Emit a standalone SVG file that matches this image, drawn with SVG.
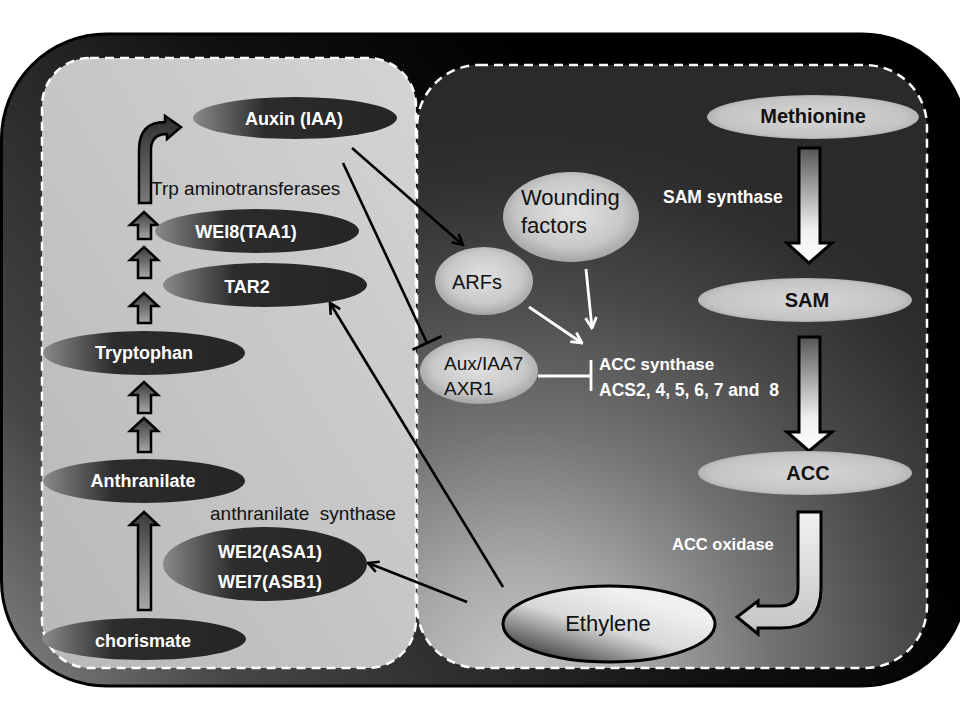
<svg xmlns="http://www.w3.org/2000/svg" width="960" height="720" viewBox="0 0 960 720">
<defs>
<style>
.dash{fill:none;stroke:#fff;stroke-width:2.5;stroke-dasharray:9 6}
.dk{fill:url(#gDark)}
.lt{fill:url(#gLight)}
.bl{fill:url(#gBlob)}
.wb{font-family:"Liberation Sans",Arial,sans-serif;font-weight:bold;fill:#fff}
.kb{font-family:"Liberation Sans",Arial,sans-serif;font-weight:bold;fill:#111}
.kr{font-family:"Liberation Sans",Arial,sans-serif;fill:#111}
.ln{fill:none;stroke:#000;stroke-width:2.6}
.wl{fill:none;stroke:#fff;stroke-width:2.8}
.sa{fill:url(#gSmall);stroke:#000;stroke-width:2.5;stroke-linejoin:miter}
.ra{fill:url(#gRight);stroke:#000;stroke-width:3;stroke-linejoin:miter}
</style>
<linearGradient id="gOuter" gradientUnits="userSpaceOnUse" x1="0" y1="720" x2="650" y2="200">
<stop offset="0" stop-color="#8a8a8a"/>
<stop offset="0.25" stop-color="#464646"/>
<stop offset="0.5" stop-color="#2a2a2a"/>
<stop offset="0.7" stop-color="#111"/>
<stop offset="1" stop-color="#000"/>
</linearGradient>
<linearGradient id="gLeft" x1="0" y1="1" x2="1" y2="0">
<stop offset="0" stop-color="#b8b8b8"/>
<stop offset="1" stop-color="#d4d4d4"/>
</linearGradient>
<radialGradient id="gRightPanel" gradientUnits="userSpaceOnUse" cx="520" cy="680" r="560">
<stop offset="0" stop-color="#c6c6c6"/>
<stop offset="0.2" stop-color="#aaaaaa"/>
<stop offset="0.45" stop-color="#737373"/>
<stop offset="0.7" stop-color="#484848"/>
<stop offset="0.9" stop-color="#303030"/>
<stop offset="1" stop-color="#2a2a2a"/>
</radialGradient>
<linearGradient id="gDark" x1="0" y1="0" x2="1" y2="0">
<stop offset="0" stop-color="#8a8a8a"/>
<stop offset="0.35" stop-color="#2c2c2c"/>
<stop offset="1" stop-color="#252525"/>
</linearGradient>
<radialGradient id="gLight" cx="0.5" cy="0.5" r="0.55">
<stop offset="0" stop-color="#d6d6d6"/>
<stop offset="0.8" stop-color="#c4c4c4"/>
<stop offset="1" stop-color="#a8a8a8"/>
</radialGradient>
<radialGradient id="gBlob" cx="0.5" cy="0.45" r="0.55">
<stop offset="0" stop-color="#e2e2e2"/>
<stop offset="0.7" stop-color="#c8c8c8"/>
<stop offset="1" stop-color="#a4a4a4"/>
</radialGradient>
<linearGradient id="gEth" x1="0.1" y1="0.9" x2="0.7" y2="0.2">
<stop offset="0" stop-color="#3a3a3a"/>
<stop offset="0.55" stop-color="#d8d8d8"/>
<stop offset="1" stop-color="#f0f0f0"/>
</linearGradient>
<linearGradient id="gSmall" x1="0" y1="0" x2="0" y2="1">
<stop offset="0" stop-color="#3a3a3a"/>
<stop offset="1" stop-color="#a8a8a8"/>
</linearGradient>
<linearGradient id="gRight" x1="0" y1="0" x2="0" y2="1">
<stop offset="0" stop-color="#555"/>
<stop offset="0.7" stop-color="#eee"/>
<stop offset="1" stop-color="#fff"/>
</linearGradient>
<linearGradient id="gCurveR" x1="0" y1="0" x2="0" y2="1">
<stop offset="0" stop-color="#f2f2f2"/>
<stop offset="1" stop-color="#c4c4c4"/>
</linearGradient>
<linearGradient id="gCurveL" x1="0" y1="0" x2="0" y2="1">
<stop offset="0" stop-color="#2e2e2e"/>
<stop offset="1" stop-color="#7a7a7a"/>
</linearGradient>
<marker id="mB" viewBox="0 0 14 14" refX="12.5" refY="7" markerWidth="14" markerHeight="14" markerUnits="userSpaceOnUse" orient="auto">
<path d="M2,1.5 L12.5,7 L2,12.5" fill="none" stroke="#000" stroke-width="2.6"/>
</marker>
<marker id="mW" viewBox="0 0 14 14" refX="12.5" refY="7" markerWidth="14" markerHeight="14" markerUnits="userSpaceOnUse" orient="auto">
<path d="M2,1.5 L12.5,7 L2,12.5" fill="none" stroke="#fff" stroke-width="2.8"/>
</marker>
</defs>

<g id="background">
<rect x="1.5" y="34" width="965" height="652" rx="105" ry="105" fill="url(#gOuter)" stroke="#000" stroke-width="3"/>
<rect x="42" y="58" width="374" height="610" rx="48" ry="48" fill="url(#gLeft)"/>
<rect x="42" y="58" width="374" height="610" rx="48" ry="48" class="dash"/>
<rect x="417" y="65" width="510" height="603" rx="62" ry="62" fill="url(#gRightPanel)"/>
<rect x="417" y="65" width="510" height="603" rx="62" ry="62" class="dash"/>
</g>

<g id="connectors">
<path class="sa" d="M138,610 V525 H130 L144,512 L158,525 H151 V610 Z"/>
<path class="sa" d="M138,452 V431 H130 L144,418 L158,431 H151 V452 Z"/>
<path class="sa" d="M138,413 V395 H130 L144,382 L158,395 H151 V413 Z"/>
<path class="sa" d="M138,323 V306 H130 L144,293 L158,306 H151 V323 Z"/>
<path class="sa" d="M138,278 V260 H130 L144,247 L158,260 H151 V278 Z"/>
<path class="sa" d="M138,239 V225 H130 L144,212 L158,225 H151 V239 Z"/>
<path d="M139,203 V150 Q139,122 165,122 V116 L181,127 L167,139 V134 Q151,134 151,150 V203 Z" fill="url(#gCurveL)" stroke="#000" stroke-width="2.5"/>
<path class="ra" d="M799,148 H820 V243 H832 L809,263 L787,243 H799 Z"/>
<path class="ra" d="M799,337 H820 V432 H832 L809,451 L787,432 H799 Z"/>
<path d="M798,512 H821 V588 Q821,628 781,628 H758 V634 L737,617 L758,601 V606 H780 Q798,606 798,588 Z" fill="url(#gCurveR)" stroke="#000" stroke-width="3"/>
<line class="ln" x1="352" y1="148" x2="463" y2="245" marker-end="url(#mB)"/>
<line class="ln" x1="343" y1="163" x2="427" y2="343"/>
<line class="ln" x1="412.5" y1="349.8" x2="441.5" y2="336.2" stroke-width="3"/>
<line class="ln" x1="503" y1="587" x2="330" y2="303" marker-end="url(#mB)"/>
<line class="ln" x1="467" y1="602" x2="368" y2="563" marker-end="url(#mB)"/>
<line class="wl" x1="529" y1="307" x2="582" y2="343" marker-end="url(#mW)"/>
<line class="wl" x1="586" y1="269" x2="592" y2="328" marker-end="url(#mW)"/>
<line class="wl" x1="538" y1="376" x2="591" y2="376"/>
<line class="wl" x1="591" y1="360" x2="591" y2="391"/>
<text class="kr" x="151" y="195" font-size="19">Trp aminotransferases</text>
<text class="kr" x="210" y="520" font-size="19" xml:space="preserve">anthranilate  synthase</text>
<text class="wb" x="663" y="203" font-size="17.5">SAM synthase</text>
<text class="wb" x="672" y="550" font-size="16.5">ACC oxidase</text>
</g>

<g id="auxin"><ellipse class="dk" cx="295" cy="118" rx="102" ry="21"/><text class="wb" x="294" y="125" font-size="18" text-anchor="middle">Auxin (IAA)</text></g>
<g id="wei8"><ellipse class="dk" cx="257" cy="231" rx="102" ry="22"/><text class="wb" x="246" y="238" font-size="18" text-anchor="middle">WEI8(TAA1)</text></g>
<g id="tar2"><ellipse class="dk" cx="265" cy="285" rx="102" ry="22"/><text class="wb" x="247" y="293" font-size="18" text-anchor="middle">TAR2</text></g>
<g id="tryptophan"><ellipse class="dk" cx="144" cy="353" rx="101" ry="22"/><text class="wb" x="144" y="359" font-size="18" text-anchor="middle">Tryptophan</text></g>
<g id="anthranilate"><ellipse class="dk" cx="144" cy="481" rx="101" ry="22"/><text class="wb" x="143" y="487" font-size="18" text-anchor="middle">Anthranilate</text></g>
<g id="wei2"><ellipse class="dk" cx="265" cy="564" rx="102" ry="37"/><text class="wb" x="270" y="558" font-size="18" text-anchor="middle">WEI2(ASA1)</text><text class="wb" x="270" y="588" font-size="18" text-anchor="middle">WEI7(ASB1)</text></g>
<g id="chorismate"><ellipse class="dk" cx="144" cy="639" rx="102" ry="21"/><text class="wb" x="143" y="647" font-size="18" text-anchor="middle">chorismate</text></g>

<g id="methionine"><ellipse class="lt" cx="813" cy="117" rx="106" ry="22"/><text class="kb" x="813" y="123" font-size="20" text-anchor="middle">Methionine</text></g>
<g id="sam"><ellipse class="lt" cx="805" cy="300" rx="107" ry="22"/><text class="kb" x="807" y="307" font-size="20" text-anchor="middle">SAM</text></g>
<g id="acc"><ellipse class="lt" cx="805" cy="473" rx="107" ry="22"/><text class="kb" x="808" y="480" font-size="20" text-anchor="middle">ACC</text></g>

<g id="arfs"><ellipse class="bl" cx="484" cy="281" rx="49" ry="34"/><text class="kr" x="477" y="289" font-size="20" text-anchor="middle">ARFs</text></g>
<g id="wounding"><ellipse class="bl" cx="571" cy="217" rx="68" ry="45"/><text class="kr" x="521" y="205" font-size="22">Wounding</text><text class="kr" x="521" y="233" font-size="22">factors</text></g>
<g id="auxiaa7"><ellipse class="bl" cx="479" cy="371" rx="59" ry="33"/><text class="kr" x="444" y="370" font-size="19">Aux/IAA7</text><text class="kr" x="444" y="395" font-size="19">AXR1</text></g>

<g id="accsynthase"><text class="wb" x="599" y="370" font-size="17">ACC synthase</text><text class="wb" x="599" y="396" font-size="17.5" xml:space="preserve">ACS2, 4, 5, 6, 7 and  8</text></g>

<g id="ethylene"><ellipse cx="609" cy="624" rx="106" ry="38" fill="url(#gEth)" stroke="#000" stroke-width="3"/><text class="kr" x="608" y="631" font-size="22" text-anchor="middle">Ethylene</text></g>
</svg>
